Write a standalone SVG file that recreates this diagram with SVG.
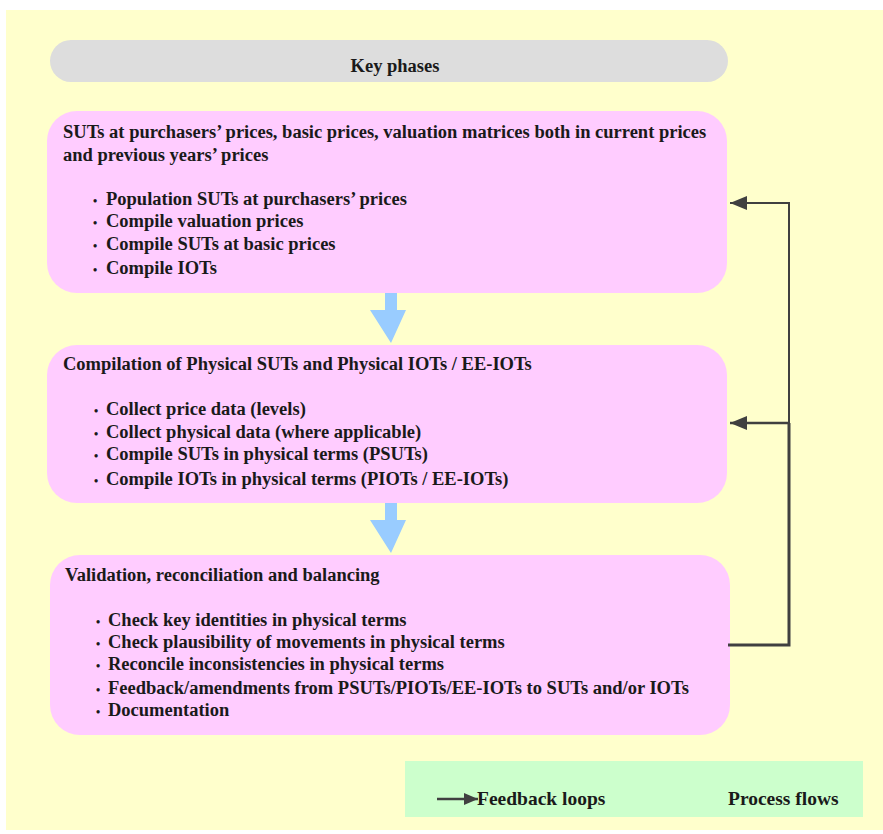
<svg xmlns="http://www.w3.org/2000/svg" width="883" height="834" viewBox="0 0 883 834">
<style>
text{font-family:"Liberation Serif","Times New Roman",serif;font-weight:bold;font-size:18.5px;fill:#1a1a1a}
.lg{font-size:19.5px}
.box{fill:#FFCCFF}
.fb{fill:none;stroke:#404040;stroke-linejoin:miter}
.blue{fill:#99CCFF}
.dot{font-size:12px}
</style>
<defs>
<marker id="ah2" markerWidth="17" markerHeight="14" refX="17" refY="7" orient="auto" markerUnits="userSpaceOnUse">
<path d="M0,0 L17,7 L0,14 Z" fill="#404040"/>
</marker>
<marker id="ah3" markerWidth="14" markerHeight="12" refX="14" refY="6" orient="auto" markerUnits="userSpaceOnUse">
<path d="M0,0 L14,6 L0,12 Z" fill="#404040"/>
</marker>
</defs>
<rect x="0" y="0" width="883" height="834" fill="#ffffff"/>
<rect x="6" y="10" width="877" height="820" fill="#FFFFCC"/>

<g id="header">
<rect x="50" y="40" width="678" height="42" rx="21" fill="#DDDDDD"/>
<text x="395" y="72" text-anchor="middle">Key phases</text>
</g>

<g id="phase1">
<rect class="box" x="47" y="111" width="680" height="182" rx="30"/>
<text x="63" y="138">SUTs at purchasers’ prices, basic prices, valuation matrices both in current prices</text>
<text x="63" y="161">and previous years’ prices</text>
<text y="205"><tspan class="dot" x="93">•</tspan><tspan x="106">Population SUTs at purchasers’ prices</tspan></text>
<text y="227"><tspan class="dot" x="93">•</tspan><tspan x="106">Compile valuation prices</tspan></text>
<text y="250"><tspan class="dot" x="93">•</tspan><tspan x="106">Compile SUTs at basic prices</tspan></text>
<text y="274"><tspan class="dot" x="93">•</tspan><tspan x="106">Compile IOTs</tspan></text>
</g>

<g id="phase2">
<rect class="box" x="47" y="345" width="680" height="158" rx="30"/>
<text x="63" y="370">Compilation of Physical SUTs and Physical IOTs / EE-IOTs</text>
<text y="415"><tspan class="dot" x="94">•</tspan><tspan x="106">Collect price data (levels)</tspan></text>
<text y="438"><tspan class="dot" x="94">•</tspan><tspan x="106">Collect physical data (where applicable)</tspan></text>
<text y="460"><tspan class="dot" x="94">•</tspan><tspan x="106">Compile SUTs in physical terms (PSUTs)</tspan></text>
<text y="485"><tspan class="dot" x="94">•</tspan><tspan x="106">Compile IOTs in physical terms (PIOTs / EE-IOTs)</tspan></text>
</g>

<g id="phase3">
<rect class="box" x="50" y="555" width="680" height="180" rx="30"/>
<text x="65" y="581">Validation, reconciliation and balancing</text>
<text y="626"><tspan class="dot" x="96">•</tspan><tspan x="108">Check key identities in physical terms</tspan></text>
<text y="648"><tspan class="dot" x="96">•</tspan><tspan x="108">Check plausibility of movements in physical terms</tspan></text>
<text y="670"><tspan class="dot" x="96">•</tspan><tspan x="108">Reconcile inconsistencies in physical terms</tspan></text>
<text y="694"><tspan class="dot" x="96">•</tspan><tspan x="108">Feedback/amendments from PSUTs/PIOTs/EE-IOTs to SUTs and/or IOTs</tspan></text>
<text y="716"><tspan class="dot" x="96">•</tspan><tspan x="108">Documentation</tspan></text>
</g>

<g id="connectors">
<path class="blue" d="M385,293 H397 V310 H406 L391,343 L370,310 H385 Z"/>
<path class="blue" d="M385,503 H397 V520 H406 L391,553 L370,520 H385 Z"/>
<path class="fb" stroke-width="3" d="M728,645 H789 V423"/>
<path class="fb" stroke-width="2.5" d="M789,423 H730" marker-end="url(#ah2)"/>
<path class="fb" stroke-width="2" d="M789,424 V203 H730" marker-end="url(#ah2)"/>
</g>

<g id="legend">
<rect x="405" y="761" width="458" height="56" fill="#CCFFCC"/>
<path class="fb" stroke-width="2.5" d="M437,799 H478" marker-end="url(#ah3)"/>
<text class="lg" x="477" y="805">Feedback loops</text>
<text class="lg" x="728" y="805">Process flows</text>
</g>
</svg>
